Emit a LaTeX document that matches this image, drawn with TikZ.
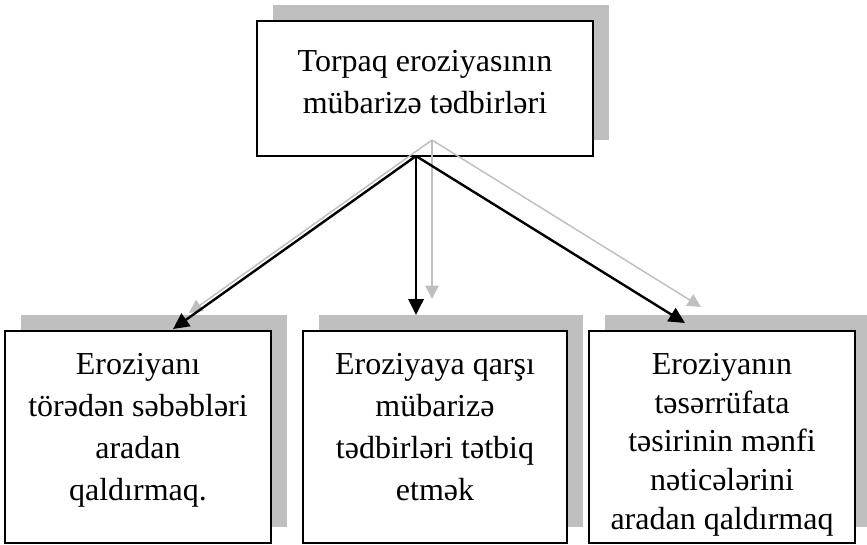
\documentclass[tikz,border=0pt]{standalone}
\usepackage{fontspec}
\setmainfont{Liberation Serif}
\usepackage{tikz}
\usetikzlibrary{
	positioning		% relative placement
	, arrows.meta		% Triangle tips
	, shadows		% offset grey shadows
}

\begin{document}
\begin{tikzpicture}[
		x=0.75pt, y=-0.75pt
		, box/.style={draw, line width=1.5pt, fill=white, inner sep=0pt,
			general shadow={fill=black!25, shadow xshift=12pt, shadow yshift=12pt}}
		, topbox/.style={box, minimum width=252pt, minimum height=101.25pt}
		, goalbox/.style={box, minimum width=199.5pt, minimum height=159pt}
		, boxtext/.style={align=center, inner sep=0pt, anchor=north, font=\fontsize{24}{31.5}\selectfont}
		, tightboxtext/.style={boxtext, font=\fontsize{24}{29}\selectfont}
		, mainarrow/.style={-{Triangle[length=12pt, width=11.5pt]}, line width=1.8pt}
		, shadearrow/.style={-{Triangle[length=10pt, width=10pt]}, line width=1.1pt, color=black!25,
			transform canvas={xshift=12pt, yshift=12pt}}]

		\useasboundingbox (0, 0) rectangle (867, 544);

		%%% Boxes
		%% Main topic
		\node[topbox] (root) at (425, 88.5) {};
		\node[boxtext] (roottext) at ([yshift=-22.5pt]root.north) {Torpaq eroziyasının\\mübarizə tədbirləri};

		%% Three ways of fighting erosion
		\node[goalbox] (causes) at (138, 437) {};
		\node[goalbox, minimum width=198pt] (measures) at (435, 437) {};
		\node[goalbox] (effects) at (722, 437) {};

		\node[boxtext] (causestext) at ([yshift=-17.25pt]causes.north)
			{Eroziyanı\\törədən səbəbləri\\aradan\\qaldırmaq.};
		\node[boxtext] (measurestext) at ([yshift=-17.25pt]measures.north)
			{Eroziyaya qarşı\\mübarizə\\tədbirləri tətbiq\\etmək};
		\node[tightboxtext] (effectstext) at ([yshift=-17.25pt]effects.north)
			{Eroziyanın\\təsərrüfata\\təsirinin mənfi\\nəticələrini\\aradan qaldırmaq};

		%%% Arrows
		\coordinate (hub) at (416, 156);
		\coordinate (causesend) at (173, 329);
		\coordinate (measuresend) at (416, 315);
		\coordinate (effectsend) at (685, 323);

		%% Grey copies behind
		\foreach \target in {causesend, measuresend, effectsend}
			\draw[shadearrow] (hub) -- (\target);

		%% Black arrows on top
		\foreach \target in {causesend, measuresend, effectsend}
			\draw[mainarrow] (hub) -- (\target);
\end{tikzpicture}
\end{document}
